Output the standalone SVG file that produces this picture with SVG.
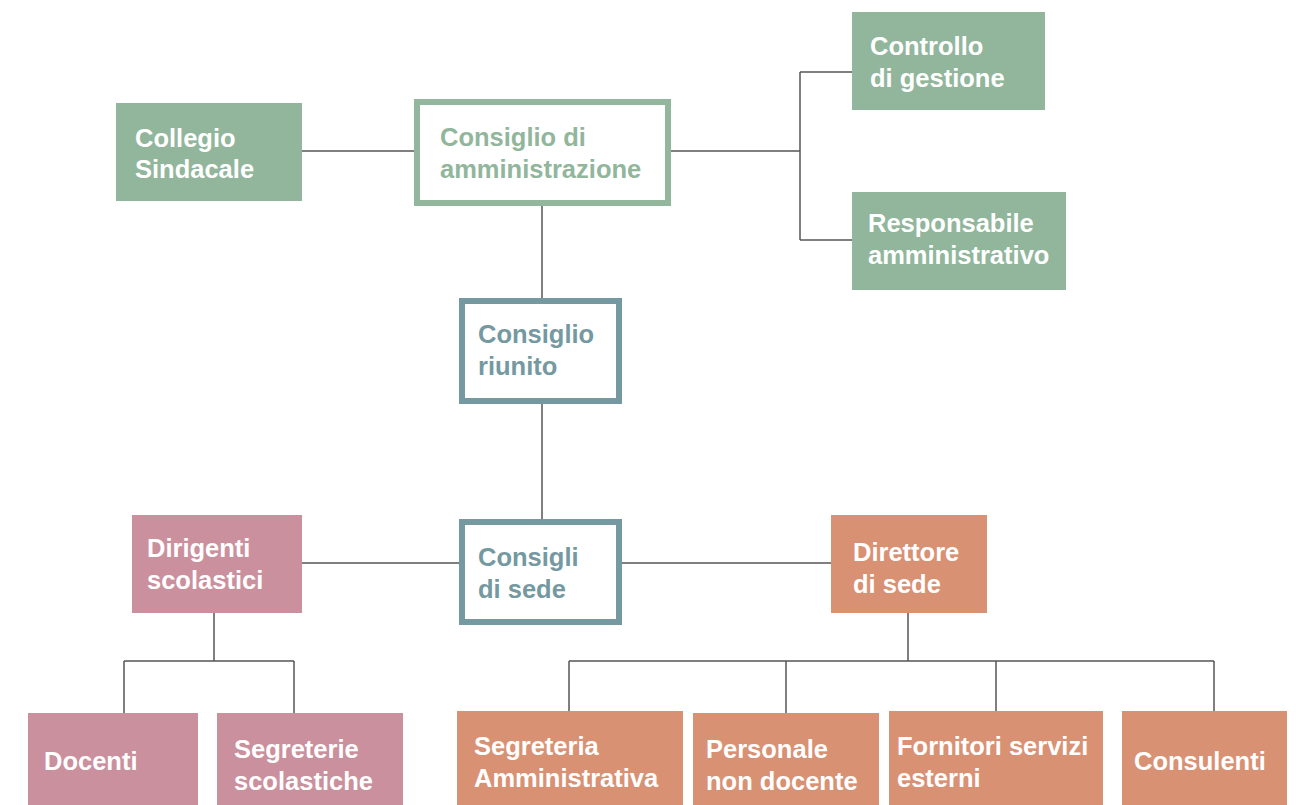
<svg xmlns="http://www.w3.org/2000/svg" width="1296" height="805" viewBox="0 0 1296 805">
<style>
text{font-family:"Liberation Sans",Arial,sans-serif;font-weight:bold;font-size:25.5px;fill:#fff}
.g{fill:#91b69c}
.gb{fill:#fff;stroke:#93b79d;stroke-width:6}
.tb{fill:#fff;stroke:#7599a1;stroke-width:6}
.p{fill:#cb909d}
.o{fill:#d99174}
text.gt{fill:#91b69c}
text.tt{fill:#7599a1}
.c{fill:none;stroke:#555;stroke-width:1.5}
</style>
<rect width="1296" height="805" fill="#fff"/>
<g id="connectors">
<path class="c" d="M302 151H417M668 151H800M800 72V240M800 72H852M800 240H852"/>
<path class="c" d="M542 203V301M542 401V522"/>
<path class="c" d="M302 563H462M619 563H831"/>
<path class="c" d="M214 613V661M124 661H294M124 661V713M294 661V713"/>
<path class="c" d="M908 613V661M569 661H1214M569 661V711M786 661V713M996 661V711M1214 661V711"/>
</g>
<g id="collegio"><rect class="g" x="116" y="103" width="186" height="98"/><text x="135" y="147">Collegio</text><text x="135" y="178">Sindacale</text></g>
<g id="cda"><rect class="gb" x="417" y="102" width="251" height="101"/><text class="gt" x="440" y="146">Consiglio di</text><text class="gt" x="440" y="178">amministrazione</text></g>
<g id="controllo"><rect class="g" x="852" y="12" width="193" height="98"/><text x="870" y="55">Controllo</text><text x="870" y="87">di gestione</text></g>
<g id="responsabile"><rect class="g" x="852" y="192" width="214" height="98"/><text x="868" y="232">Responsabile</text><text x="868" y="264">amministrativo</text></g>
<g id="riunito"><rect class="tb" x="462" y="301" width="157" height="100"/><text class="tt" x="478" y="343">Consiglio</text><text class="tt" x="478" y="375">riunito</text></g>
<g id="sede"><rect class="tb" x="462" y="522" width="157" height="100"/><text class="tt" x="478" y="566">Consigli</text><text class="tt" x="478" y="598">di sede</text></g>
<g id="dirigenti"><rect class="p" x="132" y="515" width="170" height="98"/><text x="147" y="557">Dirigenti</text><text x="147" y="589">scolastici</text></g>
<g id="direttore"><rect class="o" x="831" y="515" width="156" height="98"/><text x="853" y="561">Direttore</text><text x="853" y="593">di sede</text></g>
<g id="docenti"><rect class="p" x="28" y="713" width="170" height="92"/><text x="44" y="770">Docenti</text></g>
<g id="segreterie"><rect class="p" x="217" y="713" width="186" height="92"/><text x="234" y="758">Segreterie</text><text x="234" y="790">scolastiche</text></g>
<g id="segreteria"><rect class="o" x="457" y="711" width="226" height="94"/><text x="474" y="755">Segreteria</text><text x="474" y="787">Amministrativa</text></g>
<g id="personale"><rect class="o" x="693" y="713" width="186" height="92"/><text x="706" y="758">Personale</text><text x="706" y="790">non docente</text></g>
<g id="fornitori"><rect class="o" x="889" y="711" width="214" height="94"/><text x="897" y="755">Fornitori servizi</text><text x="897" y="787">esterni</text></g>
<g id="consulenti"><rect class="o" x="1122" y="711" width="165" height="94"/><text x="1134" y="770">Consulenti</text></g>
</svg>
